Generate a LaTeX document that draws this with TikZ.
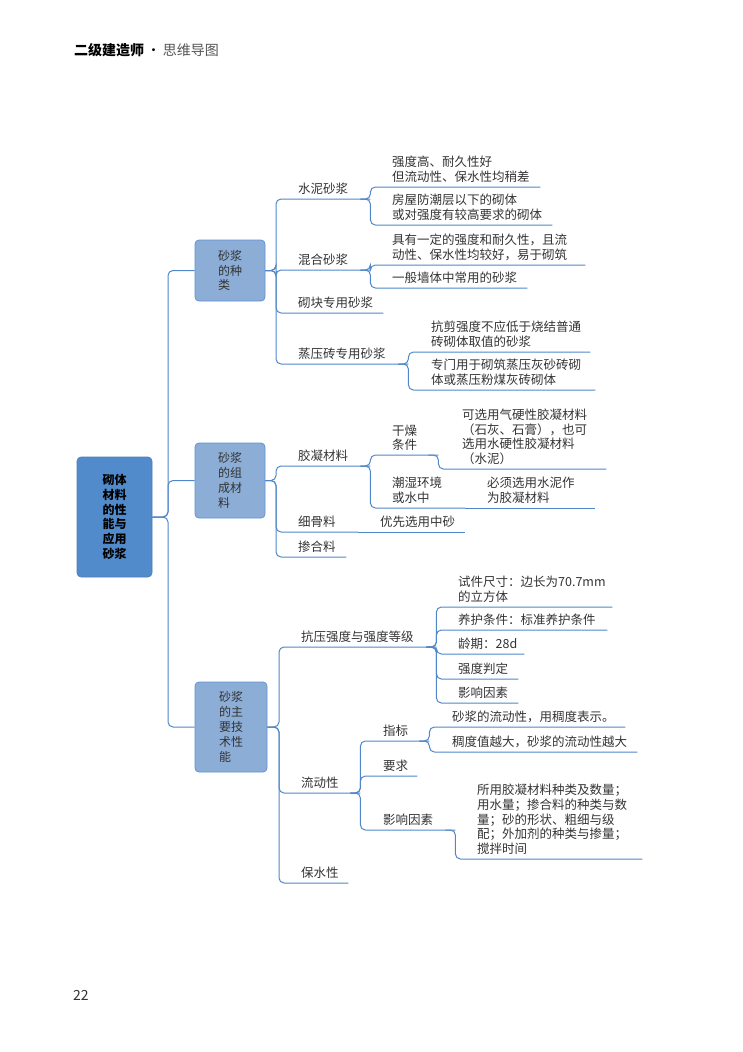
\documentclass[tikz,border=0pt]{standalone}
\usepackage{fontspec}
\setmainfont{Noto Sans CJK SC}
\usetikzlibrary{calc}
\definecolor{lineblue}{HTML}{4F87C9}
\definecolor{rootfill}{HTML}{528BCB}
\definecolor{lonefill}{HTML}{8CADD6}
\definecolor{loneborder}{HTML}{5F93D0}
\definecolor{textgray}{HTML}{333333}
\definecolor{hdrgray}{HTML}{555555}
\newcommand\mf{\fontsize{12.5}{14.8}\selectfont}
\newcommand\boxfont{\fontsize{12}{14.8}\selectfont}
\tikzset{
  topic/.style={anchor=south west, inner xsep=0pt, inner ysep=4pt, align=left, text=textgray, font=\mf},
  conn/.style={draw=lineblue, line width=1pt, rounded corners=5pt},
  rootbox/.style={fill=rootfill, draw=rootfill!90!black, line width=0.6pt, rounded corners=4pt, align=center, font=\boxfont\bfseries, text=black, inner sep=0pt},
  lonebox/.style={fill=lonefill, draw=loneborder, line width=0.8pt, rounded corners=4pt, align=left, font=\boxfont, text=textgray, inner sep=0pt}
}
\begin{document}
\begin{tikzpicture}[x=1pt,y=-1pt]
\useasboundingbox (0,0) rectangle (743,1052);
% header and page number
\node[anchor=west, inner sep=0pt, font=\fontsize{14}{16}\selectfont] (hdr) at (74,50) {{\bfseries 二级建造师}\,·\,{\color{hdrgray}思维导图}};
\node[anchor=west, inner sep=0pt, font=\fontsize{14}{16}\selectfont, text=textgray] (pg) at (73,995) {22};

% root and level-1 boxes
\node[rootbox, minimum width=75pt, minimum height=120pt] (root) at (114.5,517) {砌体\\材料\\的性\\能与\\应用\\砂浆};
\node[lonebox, minimum width=70pt, minimum height=61pt] (bA) at (230,270.5) {砂浆\\的种\\类};
\node[lonebox, minimum width=70pt, minimum height=75pt] (bB) at (230,480.5) {砂浆\\的组\\成材\\料};
\node[lonebox, minimum width=72pt, minimum height=90pt] (bC) at (231,727) {砂浆\\的主\\要技\\术性\\能};
\coordinate (trunk) at (168,517);
\coordinate (sA) at (276,271);
\coordinate (sB) at (276,481);
\coordinate (sC) at (279,727);

% branch A
\node[topic, text width=72pt] (a1) at (298,199) {水泥砂浆};
\node[topic, text width=72pt] (a2) at (298,270) {混合砂浆};
\node[topic, text width=85pt] (a3) at (298,313) {砌块专用砂浆};
\node[topic, text width=110pt] (a4) at (298,364) {蒸压砖专用砂浆};
\node[topic, text width=148pt] (a11) at (392,187) {强度高、耐久性好\\但流动性、保水性均稍差};
\node[topic, text width=160pt] (a12) at (392,225) {房屋防潮层以下的砌体\\或对强度有较高要求的砌体};
\node[topic, text width=193pt] (a21) at (392,265) {具有一定的强度和耐久性，且流\\动性、保水性均较好，易于砌筑};
\node[topic, text width=135pt] (a22) at (392,288) {一般墙体中常用的砂浆};
\node[topic, text width=159pt] (a41) at (431,352) {抗剪强度不应低于烧结普通\\砖砌体取值的砂浆};
\node[topic, text width=164pt] (a42) at (431,390) {专门用于砌筑蒸压灰砂砖砌\\体或蒸压粉煤灰砖砌体};

% branch B
\node[topic, text width=72pt] (b1) at (298,466) {胶凝材料};
\node[topic, text width=60pt] (b2) at (298,532) {细骨料};
\node[topic, text width=48pt] (b3) at (298,557) {掺合料};
\node[topic, text width=46pt] (b11) at (392,455) {干燥\\条件};
\node[topic, text width=73pt] (b12) at (392,508) {潮湿环境\\或水中};
\node[topic, text width=144pt] (b111) at (462,469) {可选用气硬性胶凝材料\\（石灰、石膏），也可\\选用水硬性胶凝材料\\（水泥）};
\node[topic, text width=108pt] (b121) at (487,508) {必须选用水泥作\\为胶凝材料};
\node[topic, text width=85pt] (b21) at (380,532) {优先选用中砂};

% branch C
\node[topic, text width=135pt] (c1) at (301,647) {抗压强度与强度等级};
\node[topic, text width=59pt] (c2) at (301,793) {流动性};
\node[topic, text width=47pt] (c3) at (301,883) {保水性};
\node[topic, text width=154pt] (c11) at (458,607) {试件尺寸：边长为70.7mm\\的立方体};
\node[topic, text width=149pt] (c12) at (458,630) {养护条件：标准养护条件};
\node[topic, text width=66pt] (c13) at (458,654) {龄期：28d};
\node[topic, text width=60pt] (c14) at (458,679) {强度判定};
\node[topic, text width=60pt] (c15) at (458,703) {影响因素};
\node[topic, text width=46pt] (c21) at (383,741) {指标};
\node[topic, text width=34pt] (c22) at (383,776) {要求};
\node[topic, text width=72pt] (c23) at (383,830) {影响因素};
\node[topic, text width=173pt] (c211) at (452,727) {砂浆的流动性，用稠度表示。};
\node[topic, text width=185pt] (c212) at (452,752) {稠度值越大，砂浆的流动性越大};
\node[topic, text width=165pt] (c231) at (477,859) {所用胶凝材料种类及数量；\\用水量；掺合料的种类与数\\量；砂的形状、粗细与级\\配；外加剂的种类与掺量；\\搅拌时间};

% connectors: root to level 1
\foreach \b in {bA,bB,bC}
  \draw[conn] (root.east) -| (trunk |- \b.west) -- (\b.west);
% level 1 to level 2
\foreach \c in {a1,a2,a3,a4}
  \draw[conn] (bA.east) -| (sA |- \c.south east) -- (\c.south east);
\foreach \c in {b1,b2,b3}
  \draw[conn] (bB.east) -| (sB |- \c.south east) -- (\c.south east);
\foreach \c in {c1,c2,c3}
  \draw[conn] (bC.east) -| (sC |- \c.south east) -- (\c.south east);
% deeper levels
\foreach \p/\c in {a1/a11,a1/a12,a2/a21,a2/a22,a4/a41,a4/a42,b1/b11,b1/b12,b11/b111,c1/c11,c1/c12,c1/c13,c1/c14,c1/c15,c2/c21,c2/c22,c2/c23,c21/c211,c21/c212,c23/c231}
  \draw[conn] ([xshift=-10pt]\p.south east) -| (\p.south east |- \c.south east) -- (\c.south east);
\draw[conn] (b12.south east) -- (b121.south east);
\draw[conn] (b2.south east) -- (b21.south east);
\end{tikzpicture}
\end{document}
